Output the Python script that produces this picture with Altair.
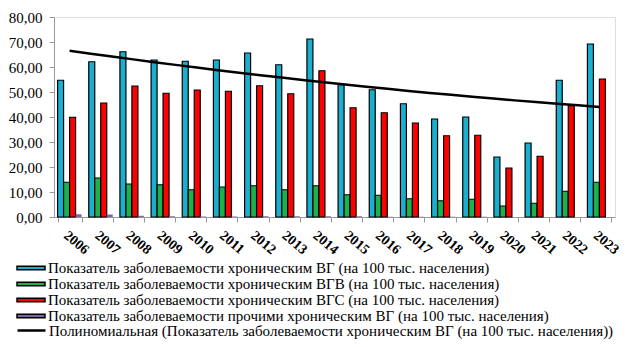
import altair as alt
import pandas as pd

years = [str(y) for y in range(2006, 2024)]

s_vg = "Показатель заболеваемости хроническим ВГ (на 100 тыс. населения)"
s_vgb = "Показатель заболеваемости хроническим ВГВ (на 100 тыс. населения)"
s_vgc = "Показатель заболеваемости хроническим ВГС (на 100 тыс. населения)"
s_other = "Показатель заболеваемости прочими хроническим ВГ (на 100 тыс. населения)"
s_trend = "Полиномиальная (Показатель заболеваемости хроническим ВГ (на 100 тыс. населения))"

vg = [54.7, 62.1, 66.1, 62.8, 62.3, 62.8, 65.6, 60.9, 71.2, 52.9, 50.9, 45.3, 39.2, 40.0, 24.0, 29.6, 54.7, 69.2]
vgb = [13.9, 15.6, 13.2, 12.9, 10.9, 12.0, 12.5, 10.9, 12.5, 8.9, 8.7, 7.3, 6.5, 7.1, 4.4, 5.5, 10.3, 13.9]
vgc = [39.9, 45.6, 52.4, 49.5, 50.8, 50.3, 52.5, 49.3, 58.5, 43.7, 41.7, 37.6, 32.5, 32.7, 19.6, 24.3, 44.5, 55.2]
other = [1.1, 1.0, 0.5, 0.3, 0.2, 0.2, 0.3, 0.3, 0.3, 0.3, 0.1, 0.1, 0.1, 0.1, 0.0, 0.0, 0.0, 0.0]

series_names = [s_vg, s_vgb, s_vgc, s_other]
series_colors = ["#1AAECF", "#1DB04B", "#FF0000", "#8064A2"]

rows = []
for name, vals in zip(series_names, [vg, vgb, vgc, other]):
    for y, v in zip(years, vals):
        rows.append({"year": y, "series": name, "value": v})
df = pd.DataFrame(rows)

trend_df = pd.DataFrame({"yearnum": [int(y) for y in years], "value": vg})

FONT = "Liberation Serif"
W, H = 561, 200

yaxis = alt.Axis(title=None, values=list(range(0, 81, 10)),
                 labelExpr="replace(format(datum.value, '.2f'), '.', ',')",
                 labelFont=FONT, labelFontSize=15, labelColor="black",
                 labelPadding=7, tickSize=5, tickColor="#999999",
                 domainColor="#999999", grid=False, labelOverlap=False)

bars = alt.Chart(df).mark_bar(stroke="black").encode(
    x=alt.X("year:N", sort=years,
            scale=alt.Scale(paddingInner=0.23, paddingOuter=0.115),
            axis=alt.Axis(title=None, labelAngle=40, labelAlign="left", labelBaseline="top",
                          labelFont=FONT, labelFontSize=14, labelFontWeight="bold",
                          labelColor="black", labelPadding=6, tickBand="extent",
                          tickSize=5, tickColor="#999999", domainColor="#999999",
                          labelOverlap=False)),
    xOffset=alt.XOffset("series:N", sort=series_names, scale=alt.Scale(domain=series_names)),
    y=alt.Y("value:Q", scale=alt.Scale(domain=[0, 80], nice=False), axis=yaxis),
    fill=alt.Fill("series:N", sort=series_names,
                  scale=alt.Scale(domain=series_names, range=series_colors),
                  legend=alt.Legend(title=None, orient="none", legendX=-31, legendY=243,
                                    direction="vertical", labelFont=FONT,
                                    labelFontSize=15, labelLimit=700, labelColor="black",
                                    symbolType="M-2,-0.25H2V0.25H-2Z", symbolSize=196,
                                    symbolStrokeColor="black", symbolStrokeWidth=1.5,
                                    labelOffset=9, rowPadding=0, padding=0)),
    strokeWidth=alt.condition(f"datum.series == '{s_other}'", alt.value(0), alt.value(1.2)),
).properties(width=W, height=H)

trend = alt.Chart(trend_df).transform_regression(
    "yearnum", "value", method="poly", order=2
).transform_calculate(
    trend=f"'{s_trend}'"
).mark_line(strokeWidth=2.5).encode(
    x=alt.X("yearnum:Q", scale=alt.Scale(domain=[2005.5, 2023.5], nice=False, zero=False), axis=None),
    y=alt.Y("value:Q", scale=alt.Scale(domain=[0, 80], nice=False), axis=yaxis),
    stroke=alt.Stroke("trend:N", scale=alt.Scale(range=["black"]),
                      legend=alt.Legend(title=None, orient="none", legendX=-31, legendY=305,
                                        labelFont=FONT, labelFontSize=15, labelLimit=700,
                                        labelColor="black",
                                        symbolType="M-2,0H2", symbolSize=196,
                                        symbolStrokeWidth=2.5, labelOffset=9, padding=0)),
)

chart = alt.layer(bars, trend).resolve_scale(x="independent").properties(
    width=W, height=H,
    autosize=alt.AutoSizeParams(type="none"),
    padding={"left": 54, "top": 17, "right": 12, "bottom": 130},
).configure_view(stroke=None).configure(background="white")

chart.save("out.html", embed_options={"renderer": "svg", "actions": False})
